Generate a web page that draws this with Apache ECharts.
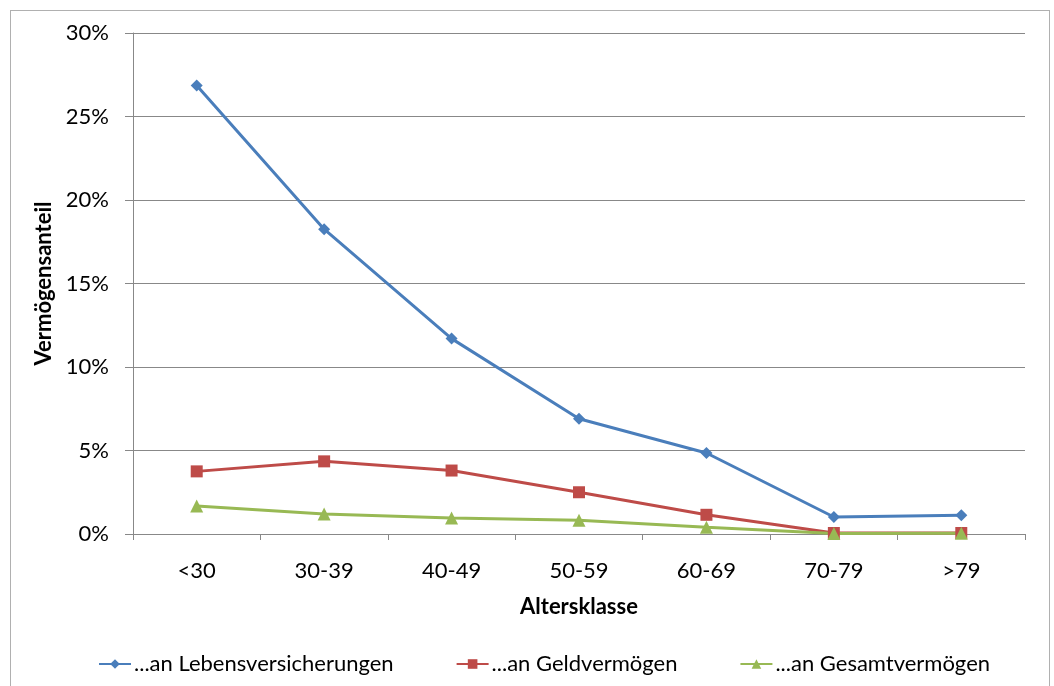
<!DOCTYPE html>
<html>
<head>
<meta charset="utf-8">
<script src="https://cdn.jsdelivr.net/npm/echarts@6/dist/echarts.min.js"></script>
<style>
  html, body { margin: 0; padding: 0; background: #fff; }
  #frame { position: absolute; left: 10px; top: 10px; width: 1040px; height: 680px; border: 1px solid #b0b0b0; box-sizing: border-box; }
  #chart { position: absolute; left: 0; top: 0; width: 1054px; height: 686px; }
</style>
</head>
<body>
<div id="frame"></div>
<div id="chart"></div>
<script>
const categories = ['<30', '30-39', '40-49', '50-59', '60-69', '70-79', '>79'];
const lebensversicherungen = [26.85, 18.25, 11.70, 6.90, 4.85, 1.02, 1.12];
const geldvermoegen = [3.75, 4.35, 3.80, 2.50, 1.15, 0.06, 0.06];
const gesamtvermoegen = [1.68, 1.20, 0.96, 0.82, 0.40, 0.03, 0.04];
const yTicks = [0, 5, 10, 15, 20, 25, 30];

const font = 'Lato, "Open Sans", sans-serif';
const chart = echarts.init(document.getElementById('chart'), null, { renderer: 'canvas' });

function lineSeries(name, data, color, symbol, size) {
  return {
    name, type: 'line', data,
    symbol, symbolSize: size,
    lineStyle: { color, width: 3 },
    itemStyle: { color },
    emphasis: { disabled: true }
  };
}

chart.setOption({
  animation: false,
  textStyle: { fontFamily: font },
  grid: { left: 133, right: 29, top: 33, bottom: 152, containLabel: false },
  xAxis: {
    type: 'category', data: categories, boundaryGap: true,
    name: 'Altersklasse', nameLocation: 'middle', nameGap: 62,
    nameTextStyle: { fontSize: 22, fontWeight: 'bold', color: '#000', fontFamily: font },
    axisLine: { lineStyle: { color: '#888', width: 1 } },
    axisTick: { show: true, length: 6, lineStyle: { color: '#888' } },
    axisLabel: { fontSize: 22, color: '#000', margin: 26, fontFamily: font }
  },
  yAxis: {
    type: 'value', min: yTicks[0], max: yTicks[yTicks.length - 1], interval: 5,
    name: 'Vermögensanteil', nameLocation: 'middle', nameGap: 76,
    nameTextStyle: { fontSize: 22, fontWeight: 'bold', color: '#000', fontFamily: font },
    axisLine: { show: true, lineStyle: { color: '#888', width: 1 } },
    axisTick: { show: true, length: 8, lineStyle: { color: '#888' } },
    axisLabel: { fontSize: 22, color: '#000', margin: 24, formatter: v => v + '%', fontFamily: font },
    splitLine: { lineStyle: { color: '#888', width: 1 } }
  },
  legend: {
    bottom: 6, left: 93, itemGap: 62, itemWidth: 32, itemHeight: 12,
    textStyle: { fontSize: 22, color: '#000', fontFamily: font, padding: [0, 0, 0, -2] }
  },
  series: [
    lineSeries('...an Lebensversicherungen', lebensversicherungen, '#4a7ebb', 'diamond', 12),
    lineSeries('...an Geldvermögen', geldvermoegen, '#be4b48', 'rect', 12),
    lineSeries('...an Gesamtvermögen', gesamtvermoegen, '#98b954', 'triangle', 13)
  ]
});
</script>
</body>
</html>
